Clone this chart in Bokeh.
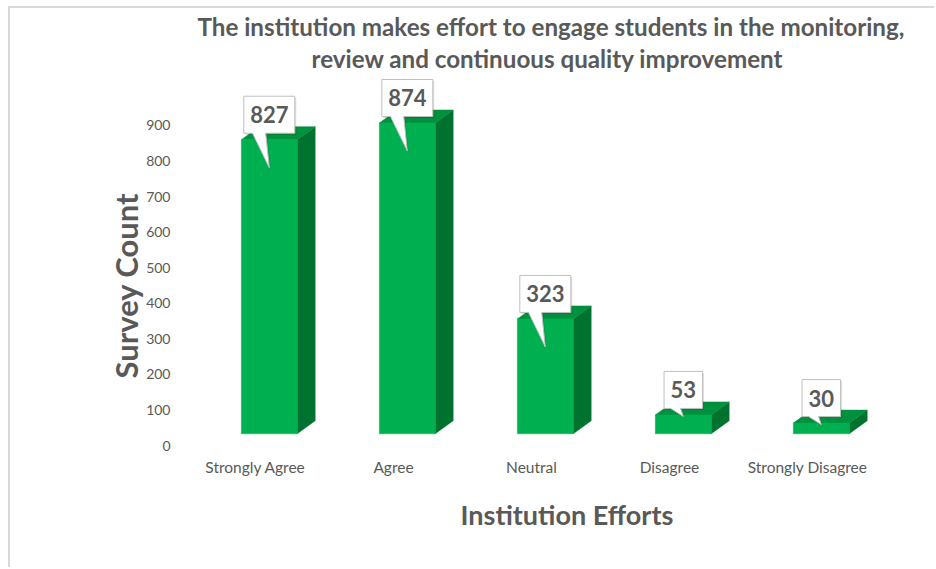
from bokeh.plotting import figure
from bokeh.models import Range1d, FixedTicker, Title
from bokeh.embed import file_html
from bokeh.resources import INLINE
from bokeh.core.properties import value

# ---------------- data ----------------
categories = ["Strongly Agree", "Agree", "Neutral", "Disagree", "Strongly Disagree"]
counts = [827, 874, 323, 53, 30]
y_ticks = [0, 100, 200, 300, 400, 500, 600, 700, 800, 900]
title_lines = ["The institution makes effort to engage students in the monitoring,",
               "review and continuous quality improvement"]
x_title = "Institution Efforts"
y_title = "Survey Count"

# ---------------- style ----------------
FONT = "Lato"
GRAY = "#595959"
FRONT = "#00b050"
TOP = "#00913e"
SIDE = "#00722f"

# 3-D look (axis units)
BAR_W = 0.405      # front face width
BAR_SHIFT = 0.10   # front face shift right of category centre
DEPTH_X = 0.13     # oblique depth, x
DEPTH_Y = 36.6     # oblique depth, y
FLOOR = 33         # front face base above the zero line

p = figure(width=926, height=561,
           x_range=Range1d(0, 5), y_range=Range1d(0, 1043.4),
           output_backend="svg", toolbar_location=None,
           min_border_left=176, min_border_right=60,
           min_border_top=66, min_border_bottom=124)
p.styles = {"margin-left": "8px", "margin-top": "6px",
            "border-left": "2px solid #d9d9d9", "border-top": "2px solid #d9d9d9"}

centers = [i + 0.5 + BAR_SHIFT for i in range(len(categories))]
lefts = [c - BAR_W / 2 for c in centers]
rights = [c + BAR_W / 2 for c in centers]
tops = [FLOOR + v for v in counts]

side_xs, side_ys, top_xs, top_ys = [], [], [], []
for l, r, t in zip(lefts, rights, tops):
    side_xs.append([r, r + DEPTH_X, r + DEPTH_X, r])
    side_ys.append([FLOOR, FLOOR + DEPTH_Y, t + DEPTH_Y, t])
    top_xs.append([l, r, r + DEPTH_X, l + DEPTH_X])
    top_ys.append([t, t, t + DEPTH_Y, t + DEPTH_Y])

p.patches(side_xs, side_ys, fill_color=SIDE, line_color=SIDE, line_width=0.5)
p.patches(top_xs, top_ys, fill_color=TOP, line_color=TOP, line_width=0.5)
p.quad(left=lefts, right=rights, bottom=FLOOR, top=tops,
       fill_color=FRONT, line_color=FRONT, line_width=0.5)

# callouts
PX_X = 1 / 138.0
PX_Y = 900 / 320.0
cx, cy, sx, sy, tx, ty, tt = [], [], [], [], [], [], []
for c, t, v in zip(centers, tops, counts):
    label = str(v)
    w = (len(label) * 12.5 + 13.5) * PX_X
    h = 37 * PX_Y
    b = t + 6.5 * PX_Y
    tip_drop = 28 * PX_Y if v > 150 else 1.5 * PX_Y
    L, R, T = c - w / 2, c + w / 2, b + h
    xs = [L, c - 0.33 * w, c, c - 0.07 * w, R, R, L]
    ys = [b, b, t - tip_drop, b, b, T, T]
    cx.append(xs)
    cy.append(ys)
    sx.append([x + 1.5 * PX_X for x in xs])
    sy.append([y - 1.5 * PX_Y for y in ys])
    tx.append(c)
    ty.append(b + h / 2)
    tt.append(label)

p.patches(sx, sy, fill_color="#000000", fill_alpha=0.12, line_color=None)
p.patches(cx, cy, fill_color="white", line_color="#bfbfbf", line_width=1)
p.text(x=tx, y=ty, text=tt, text_font=value(FONT), text_font_style="bold",
       text_font_size="22px", text_color=GRAY, text_align="center",
       text_baseline="middle")

# axes
p.xaxis.ticker = FixedTicker(ticks=[i + 0.5 for i in range(len(categories))])
p.xaxis.major_label_overrides = {i + 0.5: c for i, c in enumerate(categories)}
p.yaxis.ticker = FixedTicker(ticks=y_ticks)
for ax in (p.xaxis, p.yaxis):
    ax.axis_line_color = None
    ax.major_tick_line_color = None
    ax.minor_tick_line_color = None
    ax.major_tick_out = 0
    ax.major_tick_in = 0
    ax.minor_tick_out = 0
    ax.major_label_text_font = FONT
    ax.major_label_text_color = GRAY
p.xaxis.major_label_text_font_size = "15.5px"
p.yaxis.major_label_text_font_size = "14px"
p.xaxis.major_label_standoff = 12
p.yaxis.major_label_standoff = 16

p.xgrid.grid_line_color = None
p.ygrid.grid_line_color = None
p.outline_line_color = None

# titles: second line closest to the frame, then first line
p.title.visible = False
p.add_layout(Title(text=title_lines[1], align="left", offset=125,
                   text_font=FONT, text_font_style="bold", text_font_size="24.2px",
                   text_color=GRAY, standoff=3), "above")
p.add_layout(Title(text=title_lines[0], align="left", offset=11,
                   text_font=FONT, text_font_style="bold", text_font_size="24.2px",
                   text_color=GRAY, standoff=0), "above")
p.add_layout(Title(text=x_title, align="left", offset=274,
                   text_font=FONT, text_font_style="bold", text_font_size="27px",
                   text_color=GRAY, standoff=34), "below")
p.add_layout(Title(text=y_title, align="left", offset=67,
                   text_font=FONT, text_font_style="bold", text_font_size="31px",
                   text_color=GRAY, standoff=-3), "left")

open("out.html", "w").write(file_html(p, INLINE))
